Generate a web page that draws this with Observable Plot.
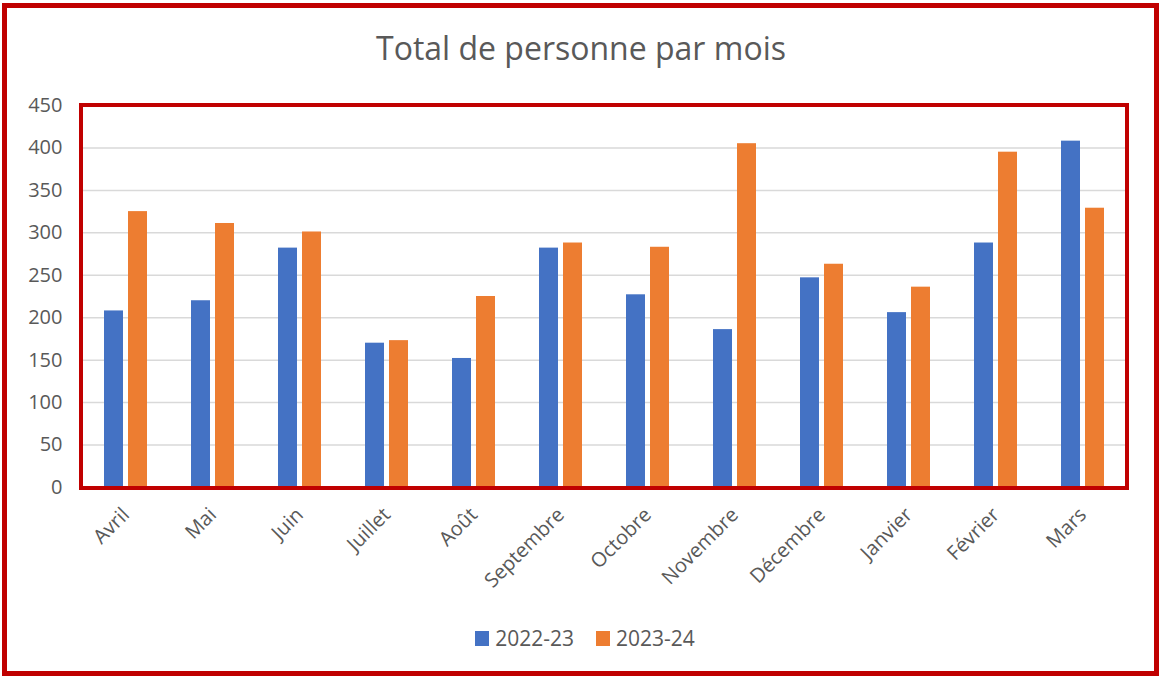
<!DOCTYPE html>
<html>
<head>
<meta charset="utf-8">
<script src="https://cdn.jsdelivr.net/npm/d3@7"></script>
<script src="https://cdn.jsdelivr.net/npm/@observablehq/plot@0.6"></script>
<style>
  html, body { margin: 0; padding: 0; background: #fff; }
  #wrap { position: relative; width: 1159px; height: 677px; overflow: hidden; font-family: "Open Sans", sans-serif; color: #595959; }
  #outer { position: absolute; left: 2px; top: 3px; width: 1157px; height: 673px; box-sizing: border-box; border: 5px solid #C00000; pointer-events: none; }
  #title { position: absolute; left: 0; top: 26px; width: 1162px; text-align: center; font-size: 32px; line-height: 44px; }
  #chart { position: absolute; left: 0; top: 85px; }
  #frame { position: absolute; left: 79px; top: 103px; width: 1050px; height: 387px; box-sizing: border-box; border: 4px solid #C00000; pointer-events: none; }
  #legend { position: absolute; left: 0; top: 624px; width: 1170px; display: flex; justify-content: center; gap: 22px; font-size: 21px; }
  .item { display: flex; align-items: center; gap: 6px; }
  .sw { width: 14px; height: 15px; display: inline-block; }
</style>
</head>
<body>
<div id="wrap">
  <div id="title">Total de personne par mois</div>
  <div id="chart"></div>
  <div id="frame"></div>
  <div id="legend"></div>
  <div id="outer"></div>
</div>
<script>
const months = ["Avril", "Mai", "Juin", "Juillet", "Août", "Septembre", "Octobre", "Novembre", "Décembre", "Janvier", "Février", "Mars"];
const series = ["2022-23", "2023-24"];
const values2022 = [208, 220, 282, 170, 152, 282, 227, 186, 247, 206, 288, 408];
const values2023 = [325, 311, 301, 173, 225, 288, 283, 405, 263, 236, 395, 329];
const yTicks = [0, 50, 100, 150, 200, 250, 300, 350, 400, 450];
const colors = ["#4472C4", "#ED7D31"];

const data = [];
months.forEach((m, i) => {
  data.push({month: m, series: series[0], value: values2022[i]});
  data.push({month: m, series: series[1], value: values2023[i]});
});

const chart = Plot.plot({
  width: 1159,
  height: 540,
  marginLeft: 80,
  marginRight: 31,
  marginTop: 20,
  marginBottom: 138,
  style: {fontFamily: "Open Sans, sans-serif", fontSize: "20px", color: "#595959", background: "transparent"},
  fx: {domain: months, padding: 0, label: null, axis: "bottom", tickRotate: -45, tickSize: 0, tickPadding: 24},
  x: {domain: series, paddingInner: 0.2, paddingOuter: 0.846, axis: null},
  y: {domain: [0, 450], ticks: yTicks, label: null, tickSize: 0, tickPadding: 20},
  color: {domain: series, range: colors},
  marks: [
    Plot.gridY(yTicks, {stroke: "#D9D9D9", strokeOpacity: 1, strokeWidth: 1.5}),
    Plot.barY(data, {fx: "month", x: "series", y: "value", fill: "series"})
  ]
});
document.getElementById("chart").appendChild(chart);

const legend = document.getElementById("legend");
series.forEach((s, i) => {
  const item = document.createElement("div");
  item.className = "item";
  const sw = document.createElement("span");
  sw.className = "sw";
  sw.style.background = colors[i];
  const t = document.createElement("span");
  t.textContent = s;
  item.appendChild(sw);
  item.appendChild(t);
  legend.appendChild(item);
});
</script>
</body>
</html>
